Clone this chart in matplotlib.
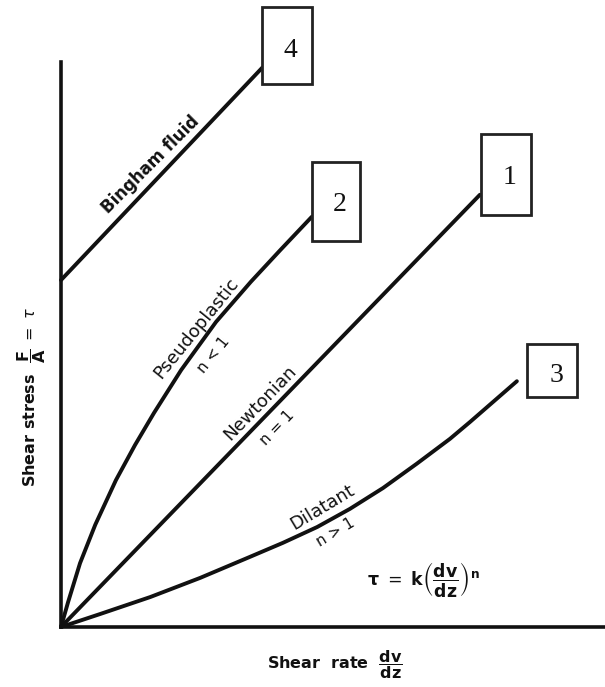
import matplotlib
matplotlib.use("Agg")
import matplotlib.pyplot as plt
from matplotlib.patches import Rectangle

plt.rcParams['font.family'] = ['DejaVu Sans']
plt.rcParams['mathtext.fontset'] = 'dejavusans'

# ---- data (arbitrary units: shear rate 0-100, shear stress 0-100) ----
pseudo_x = [0, 1.3, 3.5, 6.3, 10.1, 13.6, 17.1, 22.1, 28.5, 34.9, 40.3, 46.1]
pseudo_y = [0, 4.4, 11.3, 18.1, 26.0, 32.2, 37.9, 45.5, 54.0, 61.1, 66.7, 72.6]

newton_x = [0, 77.0]
newton_y = [0, 76.5]

dilat_x = [0, 7.2, 16.4, 25.6, 34.7, 40.8, 47.1, 53.1, 59.2, 65.4, 71.5, 75.2, 83.8]
dilat_y = [0, 2.3, 5.3, 8.7, 12.4, 14.9, 17.7, 20.9, 24.6, 28.9, 33.3, 36.3, 43.5]

bingham_x = [0, 37.0]
bingham_y = [61.4, 99.0]

box_labels = ["1", "2", "3", "4"]

# ---- figure ----
W, H = 605, 687
fig = plt.figure(figsize=(W / 100, H / 100), dpi=100)
ax = fig.add_axes([61 / W, (H - 627) / H, (W - 61) / W, (627 - 62) / H])
ax.set_xlim(0, 100)
ax.set_ylim(0, 100)
for s in ['top', 'right']:
    ax.spines[s].set_visible(False)
for s in ['left', 'bottom']:
    ax.spines[s].set_linewidth(2.6)
    ax.spines[s].set_color('#111111')
ax.set_xticks([])
ax.set_yticks([])

lw = 2.8
col = '#111111'
ax.plot(pseudo_x, pseudo_y, color=col, lw=lw, solid_capstyle='round', clip_on=False)
ax.plot(newton_x, newton_y, color=col, lw=lw, solid_capstyle='round', clip_on=False)
ax.plot(dilat_x, dilat_y, color=col, lw=lw, solid_capstyle='round', clip_on=False)
ax.plot(bingham_x, bingham_y, color=col, lw=lw, solid_capstyle='round', clip_on=False)

# boxes with numbers (x0, y0, w, h) in data units
boxes = {
    "1": (77.2, 72.9, 9.2, 14.4),
    "2": (46.1, 68.3, 8.8, 14.0),
    "3": (85.7, 40.7, 9.2, 9.4),
    "4": (37.0, 96.1, 9.2, 13.6),
}
num_pos = {"1": (82.4, 79.5), "2": (51.3, 74.7), "3": (91.0, 44.6), "4": (42.1, 102.1)}
for lab in box_labels:
    x0, y0, w, h = boxes[lab]
    ax.add_patch(Rectangle((x0, y0), w, h, fill=True, facecolor='white',
                           edgecolor='#222222', lw=2.0, clip_on=False, zorder=3))
    tx, ty = num_pos[lab]
    ax.text(tx, ty, lab, family='Liberation Serif', fontsize=20, ha='center',
            va='center', color='#111111', clip_on=False, zorder=4)

# curve labels
tk = dict(ha='center', va='center', color='#111111', rotation_mode='anchor')
ax.text(16.4, 81.8, "Bingham fluid", fontsize=12, fontweight='bold', rotation=45, **tk)
ax.text(24.8, 52.9, "Pseudoplastic", fontsize=13, rotation=51, **tk)
ax.text(28.1, 48.1, "n < 1", fontsize=11, rotation=51, **tk)
ax.text(36.6, 39.6, "Newtonian", fontsize=13, rotation=46, **tk)
ax.text(39.7, 35.2, "n = 1", fontsize=11, rotation=46, **tk)
ax.text(48.0, 21.2, "Dilatant", fontsize=13, rotation=31, **tk)
ax.text(50.4, 16.8, "n > 1", fontsize=11, rotation=31, **tk)

ax.text(66.6, 8.4, r"$\mathbf{\tau}\ =\ \mathbf{k}\left(\dfrac{\mathbf{dv}}{\mathbf{dz}}\right)^{\mathbf{n}}$",
        fontsize=12.5, ha='center', va='center', color='#111111')

# axis labels
ax.text(50.4, -6.6, r"Shear  rate  $\dfrac{\mathbf{dv}}{\mathbf{dz}}$", fontsize=11.5,
        fontweight='bold', ha='center', va='center', color='#111111', clip_on=False)
ax.text(-5.4, 40.7, r"Shear stress  $\dfrac{\mathbf{F}}{\mathbf{A}}\ =\ \tau$", fontsize=11.5,
        fontweight='bold', rotation=90, ha='center', va='center', color='#111111',
        clip_on=False)

fig.savefig("out.png", dpi=100)
